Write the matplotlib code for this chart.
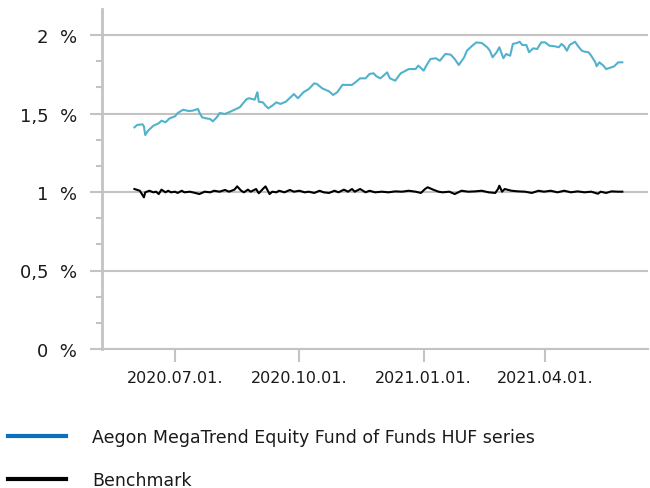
import matplotlib
matplotlib.use("Agg")
import matplotlib.pyplot as plt
import matplotlib.dates as mdates
from matplotlib.ticker import MultipleLocator, FuncFormatter
import pandas as pd

fund_dates = [
    "2020-06-01", "2020-06-03", "2020-06-07", "2020-06-08", "2020-06-09", "2020-06-11",
    "2020-06-15", "2020-06-19", "2020-06-21", "2020-06-24", "2020-06-27", "2020-07-01",
    "2020-07-03", "2020-07-07", "2020-07-11", "2020-07-14", "2020-07-18", "2020-07-19",
    "2020-07-21", "2020-07-24", "2020-07-27", "2020-07-29", "2020-08-01", "2020-08-03",
    "2020-08-07", "2020-08-10", "2020-08-14", "2020-08-18", "2020-08-20", "2020-08-23",
    "2020-08-25", "2020-08-29", "2020-08-30", "2020-08-31", "2020-09-01", "2020-09-04",
    "2020-09-06", "2020-09-08", "2020-09-11", "2020-09-14", "2020-09-17", "2020-09-21",
    "2020-09-25", "2020-09-27", "2020-09-30", "2020-10-04", "2020-10-08", "2020-10-12",
    "2020-10-14", "2020-10-18", "2020-10-23", "2020-10-26", "2020-10-29", "2020-11-02",
    "2020-11-05", "2020-11-09", "2020-11-13", "2020-11-15", "2020-11-19", "2020-11-22",
    "2020-11-25", "2020-11-27", "2020-11-30", "2020-12-05", "2020-12-07", "2020-12-11",
    "2020-12-15", "2020-12-21", "2020-12-26", "2020-12-28", "2021-01-01", "2021-01-03",
    "2021-01-06", "2021-01-10", "2021-01-13", "2021-01-17", "2021-01-21", "2021-01-24",
    "2021-01-27", "2021-01-31", "2021-02-02", "2021-02-06", "2021-02-09", "2021-02-13",
    "2021-02-17", "2021-02-19", "2021-02-21", "2021-02-24", "2021-02-26", "2021-03-01",
    "2021-03-03", "2021-03-06", "2021-03-08", "2021-03-11", "2021-03-13", "2021-03-15",
    "2021-03-18", "2021-03-20", "2021-03-23", "2021-03-26", "2021-03-29", "2021-04-01",
    "2021-04-04", "2021-04-08", "2021-04-11", "2021-04-13", "2021-04-15", "2021-04-17",
    "2021-04-19", "2021-04-23", "2021-04-25", "2021-04-28", "2021-04-30", "2021-05-03",
    "2021-05-05", "2021-05-08", "2021-05-09", "2021-05-11", "2021-05-14", "2021-05-16",
    "2021-05-20", "2021-05-22", "2021-05-25", "2021-05-28",
]
fund_values = [
    1.412, 1.427, 1.431, 1.418, 1.363, 1.390,
    1.422, 1.438, 1.454, 1.444, 1.469, 1.482,
    1.503, 1.524, 1.516, 1.518, 1.529, 1.508,
    1.476, 1.469, 1.465, 1.450, 1.476, 1.503,
    1.497, 1.508, 1.524, 1.540, 1.561, 1.592,
    1.597, 1.588, 1.613, 1.635, 1.575, 1.571,
    1.550, 1.533, 1.550, 1.571, 1.561, 1.575,
    1.607, 1.624, 1.597, 1.635, 1.656, 1.692,
    1.688, 1.660, 1.641, 1.618, 1.635, 1.683,
    1.682, 1.682, 1.709, 1.724, 1.724, 1.752,
    1.756, 1.737, 1.724, 1.762, 1.724, 1.709,
    1.756, 1.783, 1.783, 1.805, 1.773, 1.805,
    1.847, 1.852, 1.836, 1.879, 1.875, 1.847,
    1.809, 1.858, 1.900, 1.932, 1.953, 1.949,
    1.922, 1.900, 1.858, 1.890, 1.922, 1.852,
    1.879, 1.868, 1.943, 1.949, 1.957, 1.936,
    1.936, 1.890, 1.915, 1.911, 1.953, 1.953,
    1.932, 1.928, 1.922, 1.943, 1.928, 1.900,
    1.936, 1.957, 1.932, 1.900, 1.894, 1.890,
    1.868, 1.826, 1.801, 1.826, 1.805, 1.783,
    1.794, 1.801, 1.826, 1.826,
]

bench_dates = [
    "2020-06-01", "2020-06-05", "2020-06-08", "2020-06-09", "2020-06-12", "2020-06-15",
    "2020-06-17", "2020-06-19", "2020-06-21", "2020-06-24", "2020-06-26", "2020-06-28",
    "2020-07-01", "2020-07-03", "2020-07-06", "2020-07-08", "2020-07-12", "2020-07-16",
    "2020-07-19", "2020-07-23", "2020-07-27", "2020-07-30", "2020-08-03", "2020-08-07",
    "2020-08-10", "2020-08-14", "2020-08-16", "2020-08-19", "2020-08-21", "2020-08-24",
    "2020-08-26", "2020-08-30", "2020-09-01", "2020-09-04", "2020-09-06", "2020-09-09",
    "2020-09-11", "2020-09-14", "2020-09-16", "2020-09-20", "2020-09-24", "2020-09-27",
    "2020-10-01", "2020-10-05", "2020-10-08", "2020-10-12", "2020-10-16", "2020-10-19",
    "2020-10-23", "2020-10-27", "2020-10-30", "2020-11-03", "2020-11-06", "2020-11-09",
    "2020-11-11", "2020-11-15", "2020-11-19", "2020-11-22", "2020-11-26", "2020-12-01",
    "2020-12-06", "2020-12-11", "2020-12-16", "2020-12-21", "2020-12-26", "2020-12-30",
    "2021-01-02", "2021-01-04", "2021-01-08", "2021-01-12", "2021-01-15", "2021-01-20",
    "2021-01-24", "2021-01-29", "2021-02-03", "2021-02-08", "2021-02-13", "2021-02-18",
    "2021-02-23", "2021-02-25", "2021-02-26", "2021-02-28", "2021-03-02", "2021-03-07",
    "2021-03-12", "2021-03-17", "2021-03-22", "2021-03-27", "2021-03-31", "2021-04-05",
    "2021-04-10", "2021-04-15", "2021-04-20", "2021-04-25", "2021-04-30", "2021-05-05",
    "2021-05-10", "2021-05-12", "2021-05-16", "2021-05-20", "2021-05-25", "2021-05-28",
]
bench_values = [
    1.019, 1.008, 0.966, 0.998, 1.008, 0.998,
    1.002, 0.987, 1.015, 0.998, 1.008, 0.998,
    1.002, 0.994, 1.008, 0.998, 1.002, 0.994,
    0.987, 1.002, 0.998, 1.008, 1.002, 1.013,
    1.002, 1.015, 1.036, 1.008, 0.998, 1.015,
    1.002, 1.019, 0.992, 1.019, 1.036, 0.987,
    1.002, 0.998, 1.008, 0.998, 1.013, 1.002,
    1.008, 0.998, 1.002, 0.994, 1.008, 0.998,
    0.994, 1.008, 0.998, 1.015, 1.002, 1.019,
    1.002, 1.019, 0.998, 1.008, 0.998, 1.002,
    0.998, 1.004, 1.002, 1.008, 1.002, 0.994,
    1.019, 1.030, 1.015, 1.002, 0.998, 1.002,
    0.987, 1.008, 1.002, 1.004, 1.008, 0.998,
    0.994, 1.019, 1.040, 1.002, 1.019, 1.008,
    1.004, 1.002, 0.994, 1.008, 1.002, 1.008,
    0.998, 1.008, 0.998, 1.004, 0.998, 1.002,
    0.989, 1.002, 0.994, 1.004, 1.002, 1.002,
]

x_ticks = ["2020-07-01", "2020-10-01", "2021-01-01", "2021-04-01"]
x_limits = ["2020-05-08", "2021-06-16"]
y_ticks = [0, 0.5, 1.0, 1.5, 2.0]
series_labels = ["Aegon MegaTrend Equity Fund of Funds HUF series", "Benchmark"]

GRID = "#c3c3c3"
FUND_COLOR = "#52b2cd"
LEGEND_FUND_COLOR = "#0a70bf"

fig = plt.figure(figsize=(6.5, 4.89), dpi=100)
ax = fig.add_axes([102 / 650, (489 - 350) / 489, (648 - 102) / 650, (350 - 10) / 489])

fd = pd.to_datetime(fund_dates)
bd = pd.to_datetime(bench_dates)
ax.plot(fd, fund_values, color=FUND_COLOR, lw=1.5, zorder=3, solid_joinstyle="round")
ax.plot(bd, bench_values, color="black", lw=1.5, zorder=3, solid_joinstyle="round")

ax.set_xlim(pd.to_datetime(x_limits[0]), pd.to_datetime(x_limits[1]))
ax.set_ylim(0, 340 / 157)

ax.set_yticks(y_ticks)
ax.yaxis.set_minor_locator(MultipleLocator(1 / 6))
ax.yaxis.set_major_formatter(FuncFormatter(lambda v, p: (f"{v:g}".replace(".", ",")) + "  %"))
ax.grid(axis="y", which="major", color=GRID, lw=1.5, zorder=1)

ax.set_xticks(pd.to_datetime(x_ticks))
ax.xaxis.set_major_formatter(mdates.DateFormatter("%Y.%m.%d."))

for s in ["top", "right"]:
    ax.spines[s].set_visible(False)
ax.spines["left"].set_color(GRID)
ax.spines["left"].set_linewidth(2.0)
ax.spines["bottom"].set_color(GRID)
ax.spines["bottom"].set_linewidth(1.5)

ax.tick_params(axis="y", which="major", length=9, width=1.5, color=GRID, pad=9,
               labelsize=13, labelcolor="#1a1a1a")
ax.tick_params(axis="y", which="minor", length=4.5, width=1.5, color=GRID)
ax.tick_params(axis="x", which="major", length=9, width=1.5, color=GRID, pad=6,
               labelsize=11.5, labelcolor="#1a1a1a")

handles = [
    plt.Line2D([], [], color=LEGEND_FUND_COLOR, lw=3),
    plt.Line2D([], [], color="black", lw=3),
]
fig.legend(handles, series_labels, loc="upper left", frameon=False,
           bbox_to_anchor=(3 / 650, 1 - 424 / 489), borderaxespad=0, borderpad=0.3,
           handlelength=3.3, handletextpad=1.55, labelspacing=1.45,
           prop={"size": 12.5}, labelcolor="#1a1a1a")

fig.savefig("out.png", dpi=100)
